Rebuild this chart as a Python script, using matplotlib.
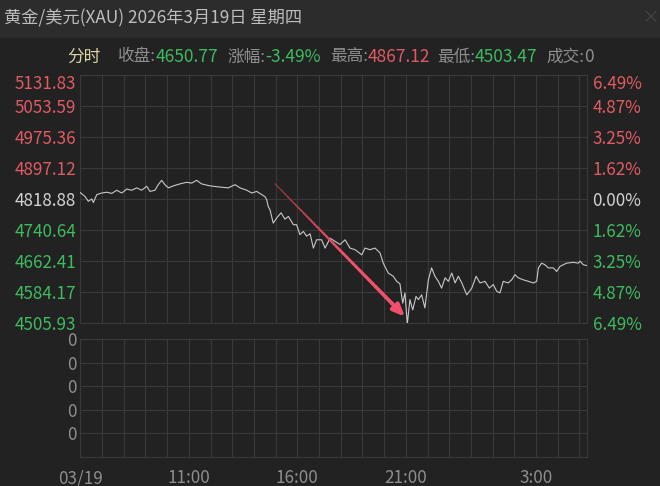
import matplotlib.pyplot as plt
import numpy as np
from matplotlib.collections import LineCollection
from matplotlib.colors import to_rgb
from matplotlib.patches import Rectangle

plt.rcParams['font.family'] = ['Noto Sans CJK SC', 'DejaVu Sans']

# colours
BG = '#222222'
HEADER_BG = '#2c2c2c'
GRID = '#393939'
RED = '#e05a63'
GREEN = '#3dbb5e'
GRAY = '#8e8e8e'
WHITE = '#d2d2d2'
LINE = '#c8c8c8'

# quote numbers
title = '黄金/美元(XAU) 2026年3月19日 星期四'
prev_close = 4818.88
close_price = 4650.77
change_pct = -3.49
high_price = 4867.12
low_price = 4503.47
volume = 0

# hours after 06:00 (03/19) and price
hours = [0.00, 0.22, 0.37, 0.53, 0.60, 0.76, 0.99, 1.22, 1.45, 1.68, 1.91, 2.14,
         2.37, 2.60, 2.83, 3.06, 3.21, 3.44, 3.59, 3.75, 3.90, 4.06, 4.29, 4.59,
         4.90, 5.13, 5.36, 5.59, 5.98, 6.44, 6.82, 7.13, 7.36, 7.67, 7.90, 8.13,
         8.36, 8.51, 8.59, 8.66, 8.74, 8.89, 9.05, 9.25, 9.43, 9.59, 9.82, 9.97,
         10.12, 10.28, 10.43, 10.59, 10.74, 10.89, 11.12, 11.28, 11.51, 11.74, 11.97, 12.20,
         12.43, 12.66, 12.97, 13.12, 13.35, 13.58, 13.81, 13.96, 14.19, 14.42, 14.58, 14.73,
         14.81, 14.86, 14.96, 15.07, 15.19, 15.32, 15.47, 15.58, 15.73, 15.88, 16.04, 16.19,
         16.34, 16.50, 16.65, 16.81, 16.96, 17.12, 17.27, 17.42, 17.58, 17.81, 18.04, 18.24,
         18.42, 18.65, 18.85, 19.03, 19.19, 19.34, 19.49, 19.72, 19.88, 20.03, 20.18, 20.41,
         20.65, 20.88, 21.03, 21.11, 21.26, 21.41, 21.57, 21.80, 21.95, 22.11, 22.26, 22.41,
         22.72, 22.95, 23.03, 23.18, 23.35]
prices = [4835, 4825, 4813, 4819, 4810, 4830, 4834, 4836, 4833, 4841, 4834, 4844,
          4841, 4847, 4841, 4851, 4838, 4841, 4855, 4866, 4855, 4847, 4852, 4857,
          4861, 4859, 4866, 4857, 4852, 4849, 4847, 4855, 4847, 4841, 4834, 4838,
          4830, 4825, 4817, 4800, 4792, 4758, 4771, 4784, 4768, 4775, 4754, 4754,
          4729, 4737, 4725, 4731, 4695, 4716, 4716, 4695, 4720, 4712, 4704, 4716,
          4695, 4691, 4678, 4695, 4691, 4695, 4683, 4657, 4632, 4624, 4611, 4605,
          4573, 4556, 4582, 4504, 4565, 4539, 4573, 4565, 4577, 4544, 4615, 4645,
          4624, 4611, 4594, 4620, 4611, 4632, 4607, 4624, 4607, 4577, 4594, 4624,
          4607, 4611, 4594, 4603, 4586, 4582, 4611, 4607, 4615, 4628, 4620, 4615,
          4611, 4607, 4611, 4645, 4657, 4653, 4645, 4645, 4636, 4649, 4653, 4657,
          4659, 4657, 4662, 4653, 4650.77]

price_ticks = [4505.93, 4584.17, 4662.41, 4740.64, 4818.88,
               4897.12, 4975.36, 5053.59, 5131.83]
time_ticks = [0, 5, 10, 15, 21]
time_labels = ['03/19', '11:00', '16:00', '21:00', '3:00']
vol_ticks = [1, 2, 3, 4, 5]
vol_labels = ['0', '0', '0', '0', '0']

# arrow (hour, price)
arrow_start = (8.97, 4857.5)
arrow_end = (14.96, 4521.8)

W, H = 660, 486
fig = plt.figure(figsize=(W / 100, H / 100), dpi=100, facecolor=BG)
renderer = fig.canvas.get_renderer()

# header bar
fig.add_artist(Rectangle((0, 1 - 37 / H), 1, 37 / H, transform=fig.transFigure,
                         color=HEADER_BG, zorder=0))
fig.text(4 / W, 1 - 18 / H, title, color='#bdbdbd', fontsize=12.4, va='center', ha='left')
fig.text(642 / W, 1 - 18 / H, '×', color='#444444', fontsize=13, va='center', ha='left')

# stats row: each group starts at its own x, value follows the label
stats = [('分时', '#ddd6a6', '', None, 67),
         ('收盘:', GRAY, f'{close_price:.2f}', GREEN, 118),
         ('涨幅:', GRAY, f'{change_pct:.2f}%', GREEN, 227),
         ('最高:', GRAY, f'{high_price:.2f}', RED, 330),
         ('最低:', GRAY, f'{low_price:.2f}', GREEN, 437),
         ('成交:', GRAY, f'{volume}', GRAY, 546)]
for lab, lcol, val, vcol, xp in stats:
    t = fig.text(xp / W, 1 - 57 / H, lab, color=lcol, fontsize=12, va='center', ha='left')
    if val:
        x1 = t.get_window_extent(renderer).x1
        fig.text(x1 / W, 1 - 57 / H, val, color=vcol, fontsize=12.5, va='center', ha='left')

left, right = 80.3 / W, 587 / W
ax = fig.add_axes([left, 1 - 323 / H, right - left, (323 - 75) / H])
axv = fig.add_axes([left, 1 - 456.7 / H, right - left, (456.7 - 339.3) / H])

for a in (ax, axv):
    a.set_facecolor(BG)
    a.set_xlim(0, 23.35)
    a.set_xticks(range(24))
    a.grid(True, color=GRID, linewidth=0.8)
    a.tick_params(length=0, labelsize=12.3)
    for s in a.spines.values():
        s.set_color(GRID)
        s.set_linewidth(0.8)
    a.set_axisbelow(True)

# price panel
ax.plot(hours, prices, color=LINE, linewidth=0.8, zorder=3)
ax.set_ylim(price_ticks[0], price_ticks[-1])
ax.set_yticks(price_ticks)
ax.set_yticklabels([f'{p:.2f}' for p in price_ticks])
ax.tick_params(axis='x', labelbottom=False)
ax.tick_params(axis='y', pad=3)

ax2 = ax.twinx()
ax2.set_ylim(price_ticks[0], price_ticks[-1])
ax2.set_yticks(price_ticks)
ax2.set_yticklabels([f'{abs(p - prev_close) / prev_close * 100:.2f}%' for p in price_ticks])
ax2.tick_params(length=0, labelsize=12.3, pad=4)
for s in ax2.spines.values():
    s.set_visible(False)

for labels in (ax.get_yticklabels(), ax2.get_yticklabels()):
    for lab, p in zip(labels, price_ticks):
        if p > prev_close + 0.01:
            lab.set_color(RED)
        elif p < prev_close - 0.01:
            lab.set_color(GREEN)
        else:
            lab.set_color(WHITE)
    labels[-1].set_verticalalignment('top')

# tapered arrow
n = 40
xs = np.linspace(arrow_start[0], arrow_end[0], n + 1)
ys = np.linspace(arrow_start[1], arrow_end[1], n + 1)
segs = [[(xs[i], ys[i]), (xs[i + 1], ys[i + 1])] for i in range(n - 2)]
c0, c1 = np.array(to_rgb('#9a3446')), np.array(to_rgb('#f0506a'))
cols = [tuple(c0 + (c1 - c0) * min(1, i / (n * 0.5))) for i in range(n - 2)]
lws = np.linspace(0.8, 2.8, n - 2)
ax.add_collection(LineCollection(segs, colors=cols, linewidths=lws, zorder=4,
                                 capstyle='round'))
ax.annotate('', xy=arrow_end, xytext=(xs[n - 3], ys[n - 3]),
            arrowprops=dict(arrowstyle='-|>,head_length=0.7,head_width=0.3',
                            color='#f0506a', lw=2.8, shrinkA=0, shrinkB=0), zorder=5)

# volume panel
axv.set_ylim(0, 5)
axv.set_yticks(vol_ticks)
axv.set_yticklabels(vol_labels, color=GRAY)
axv.tick_params(axis='y', pad=3)
xl = [''] * 24
for t, l in zip(time_ticks, time_labels):
    xl[t] = l
axv.set_xticklabels(xl, color=GRAY)
axv.tick_params(axis='x', pad=9)

fig.savefig('out.png', dpi=100, facecolor=BG)
